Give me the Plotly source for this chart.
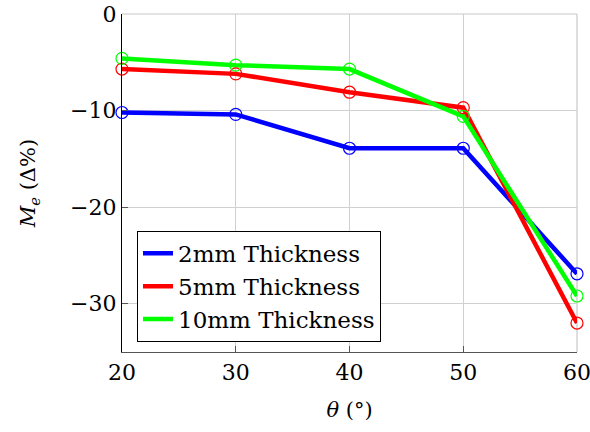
import plotly.graph_objects as go

# Incidence angle (degrees)
theta = [20, 30, 40, 50, 60]

# Change of M_e (%) per plate thickness
me_2mm = [-10.2, -10.4, -13.9, -13.9, -26.9]
me_5mm = [-5.7, -6.2, -8.1, -9.7, -32.0]
me_10mm = [-4.6, -5.3, -5.7, -10.6, -29.2]

series = [
    ("2mm Thickness", me_2mm, "#0000ff"),
    ("5mm Thickness", me_5mm, "#ff0000"),
    ("10mm Thickness", me_10mm, "#00ff00"),
]

x_ticks = [20, 30, 40, 50, 60]
y_ticks = [-30, -20, -10, 0]
y_tick_text = ["\u221230", "\u221220", "\u221210", "0"]

FONT = "DejaVu Serif, serif"

fig = go.Figure()
for name, vals, color in series:
    fig.add_trace(go.Scatter(
        x=theta, y=vals, name=name, mode="lines", cliponaxis=False,
        line=dict(color=color, width=4.5),
    ))
for name, vals, color in series:
    fig.add_trace(go.Scatter(
        x=theta, y=vals, name=name, mode="markers", showlegend=False, cliponaxis=False,
        marker=dict(symbol="circle-open", size=12, color=color, line=dict(width=1.2, color=color)),
    ))

fig.update_layout(
    width=590, height=432,
    margin=dict(l=122, r=13, t=14, b=80, autoexpand=False),
    paper_bgcolor="white", plot_bgcolor="white",
    font=dict(family=FONT, size=22, color="black"),
    showlegend=True,
    legend=dict(
        x=0.033, y=0.03, xanchor="left", yanchor="bottom",
        bgcolor="white", bordercolor="black", borderwidth=1,
        font=dict(family=FONT, size=23),
        tracegroupgap=0,
    ),
    xaxis=dict(
        range=[20, 60], tickvals=x_ticks, ticks="inside", ticklen=6,
        tickcolor="#555", showgrid=True, gridcolor="#d0d0d0", gridwidth=1,
        showline=True, linecolor="#555", linewidth=1.2, zeroline=False, automargin=False,
        ticklabeloverflow="allow",
        title=dict(text="<i>\u03b8</i> (\u00b0)", font=dict(family=FONT, size=21), standoff=18),
    ),
    yaxis=dict(
        range=[-35, 0], tickvals=y_ticks, ticktext=y_tick_text, ticks="inside", ticklen=6,
        tickcolor="#555", showgrid=True, gridcolor="#d0d0d0", gridwidth=1,
        showline=True, linecolor="black", linewidth=1.2, zeroline=False, automargin=False,
        ticklabeloverflow="allow",
        title=dict(text="<i>M</i><sub><i>e</i></sub> (\u0394%)", font=dict(family=FONT, size=21), standoff=28),
    ),
)

# Light frame on the top and right sides of the plotting area
fig.add_shape(type="line", xref="paper", yref="paper", x0=0, x1=1, y0=1, y1=1,
              line=dict(color="#c8c8c8", width=1.2), layer="below")
fig.add_shape(type="line", xref="paper", yref="paper", x0=1, x1=1, y0=0, y1=1,
              line=dict(color="#c8c8c8", width=1.2), layer="below")

fig.write_html("out.html")
